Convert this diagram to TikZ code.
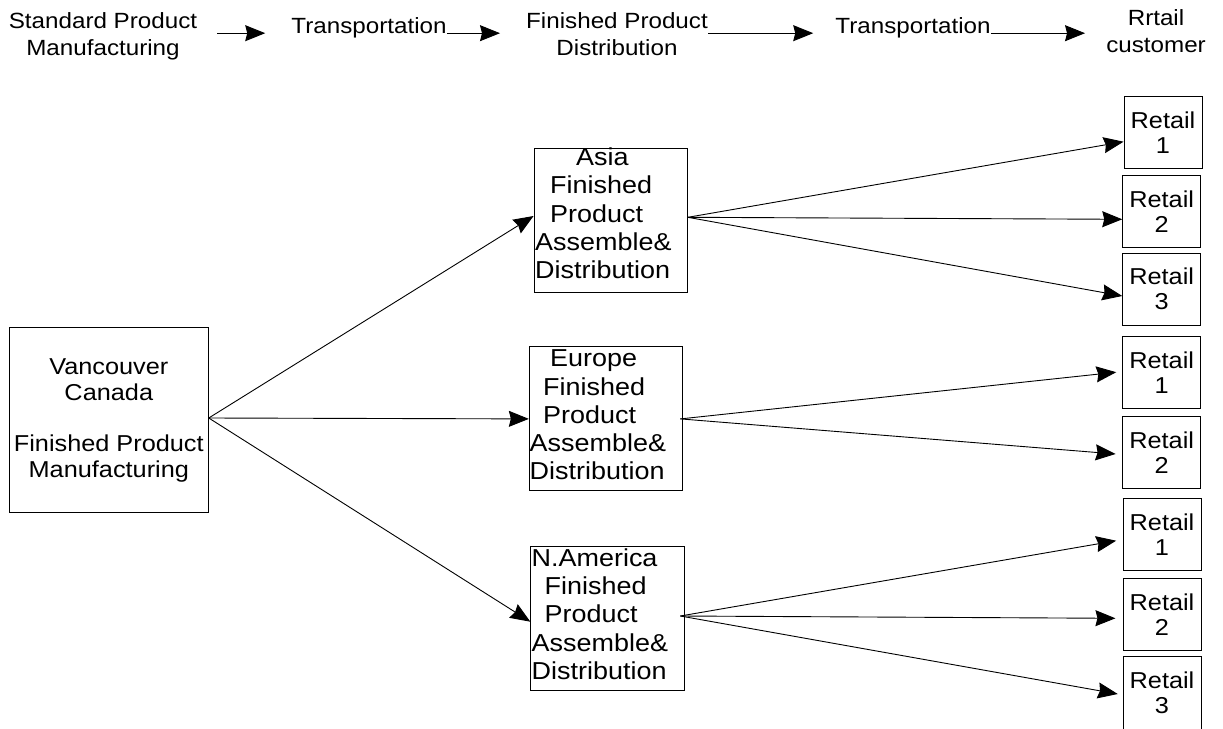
\documentclass[tikz,border=0pt]{standalone}
\usepackage{fontspec}
\setmainfont{Liberation Sans}[FakeStretch=1.1]
\usetikzlibrary{arrows.meta,calc}
\begin{document}
\begin{tikzpicture}[x=1pt,y=-1pt,
  arr/.style={-{Stealth[length=20pt,width=16pt,inset=2pt]}, line width=0.9pt},
  box/.style={draw, line width=0.9pt, inner sep=0pt},
  hd/.style={font=\fontsize{22}{27}\selectfont, align=center, inner sep=0pt},
  vanbox/.style={box, minimum width=199pt, minimum height=185pt, align=center,
    font=\fontsize{23}{26}\selectfont},
  distbox/.style={box, minimum width=153.4pt, minimum height=144pt},
  disttxt/.style={anchor=west, align=left, inner sep=0pt,
    font=\fontsize{24.5}{28.3}\selectfont},
  rbox/.style={box, minimum width=78pt, minimum height=71.7pt, align=center,
    font=\fontsize{23}{25}\selectfont}
]
\useasboundingbox (0,0) rectangle (1223,728);

% header
\node[hd] (h1) at (103,36.8) {Standard Product\\Manufacturing};
\node[hd] (t1) at (369,27.5) {Transportation};
\node[hd] (h2) at (617,34.5) {Finished Product\\Distribution};
\node[hd] (t2) at (913,27.5) {Transportation};
\node[hd] (h3) at (1156,31.5) {Rrtail\\customer};

\draw[arr] ($(h1.east |- t1.base)+(20,0)$) -- ($(t1.base west)+(-26,0)$);
\draw[arr] (t1.base east) -- ($(h2.west |- t1.base)+(-26,0)$);
\draw[arr] (h2.east |- t2.base) -- ($(t2.base west)+(-22,0)$);
\draw[arr] (t2.base east) -- ($(h3.west |- t2.base)+(-21,0)$);

% source
\node[vanbox] (van) at (108.8,420) {Vancouver\\Canada\\[25pt]Finished Product\\Manufacturing};

% distribution boxes
\node[distbox] (asia) at (610.7,220.9) {};
\node[disttxt] (asiaT) at (535,213.5) {\hspace*{41pt}Asia\\\hspace*{15pt}Finished\\\hspace*{15pt}Product\\Assemble\&\\Distribution};
\node[distbox] (eur) at (606,418.9) {};
\node[disttxt] (eurT) at (529.5,415) {\hspace*{20.5pt}Europe\\\hspace*{13.5pt}Finished\\\hspace*{13.5pt}Product\\Assemble\&\\Distribution};
\node[distbox] (na) at (607.5,618) {};
\node[disttxt] (naT) at (531.5,614) {N.America\\\hspace*{13pt}Finished\\\hspace*{13pt}Product\\Assemble\&\\Distribution};

% retail boxes
\node[rbox] (ar1) at (1163,132.5) {Retail\\1};
\node[rbox] (ar2) at (1161.7,211.7) {Retail\\2};
\node[rbox] (ar3) at (1161.7,289.2) {Retail\\3};
\node[rbox] (er1) at (1161.7,372.2) {Retail\\1};
\node[rbox] (er2) at (1161.7,452.5) {Retail\\2};
\node[rbox] (nr1) at (1162,534.2) {Retail\\1};
\node[rbox] (nr2) at (1162,614.2) {Retail\\2};
\node[rbox, minimum height=72.3pt] (nr3) at (1162,692.8) {Retail\\3};

% connectors from source
\coordinate (vs) at ([yshift=2pt]van.east);
\draw[arr] (vs) -- ([yshift=4.9pt]asia.west);
\draw[arr] (vs) -- (eur.west);
\draw[arr] (vs) -- ([yshift=-3.7pt]na.west);

% Asia to retail
\coordinate (as) at ([yshift=3.6pt]asia.east);
\draw[arr] (as) -- ([yshift=-9.2pt]ar1.west);
\draw[arr] (as) -- ([yshift=-7.6pt]ar2.west);
\draw[arr] (as) -- ([yshift=-6.8pt]ar3.west);

% Europe to retail
\coordinate (es) at ([xshift=-2.7pt]eur.east);
\draw[arr] (es) -- ([xshift=-6pt]er1.west);
\draw[arr] (es) -- ([xshift=-6.7pt,yshift=-1.5pt]er2.west);

% N.America to retail
\coordinate (ns) at ([xshift=-4.3pt,yshift=2pt]na.east);
\draw[arr] (ns) -- ([xshift=-6.4pt,yshift=-6.5pt]nr1.west);
\draw[arr] (ns) -- ([xshift=-7.1pt,yshift=-4.1pt]nr2.west);
\draw[arr] (ns) -- ([xshift=-4.8pt,yshift=-1.2pt]nr3.west);
\end{tikzpicture}
\end{document}
